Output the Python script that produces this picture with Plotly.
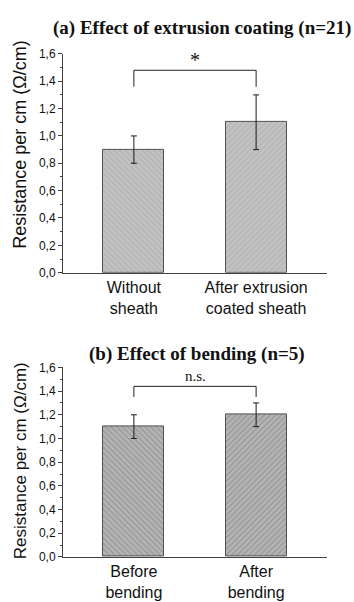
import plotly.graph_objects as go

# Panel (a): extrusion coating
cats_a = ["Without<br>sheath", "After extrusion<br>coated sheath"]
mean_a = [0.9, 1.1]
err_a = [0.1, 0.2]
bracket_a = [1.48, 1.36]  # bracket top, bracket leg bottom
sig_a = "*"

# Panel (b): bending
cats_b = ["Before<br>bending", "After<br>bending"]
mean_b = [1.1, 1.2]
err_b = [0.1, 0.1]
bracket_b = [1.44, 1.35]
sig_b = "n.s."

y_ticks = [0.0, 0.2, 0.4, 0.6, 0.8, 1.0, 1.2, 1.4, 1.6]
hatches = ["\\", "/"]

W, H = 354, 602
serif = "Liberation Serif, Times New Roman, serif"
sans = "Liberation Sans, Arial, sans-serif"

fig = go.Figure()


def add_panel(fig, cats, means, errs, fg, bg, xa, ya):
    xs = list(range(len(cats)))
    fig.add_trace(go.Bar(
        x=xs, y=means, width=0.5,
        xaxis=xa, yaxis=ya,
        marker=dict(color=bg, line=dict(color="#505050", width=1),
                    pattern=dict(shape=hatches, fgcolor=fg, bgcolor=bg,
                                 size=4, solidity=0.25)),
        error_y=dict(type="data", array=errs, color="#1a1a1a",
                     thickness=1, width=3),
        showlegend=False,
    ))


add_panel(fig, cats_a, mean_a, err_a, "#9a9a9a", "#c2c2c2", "x", "y")
add_panel(fig, cats_b, mean_b, err_b, "#6a6a6a", "#b4b4b4", "x2", "y2")

xdom = [63 / W, 327 / W]
axis_common = dict(showline=True, linecolor="#404040", linewidth=1,
                   showgrid=False, zeroline=False)

fig.update_layout(
    width=W, height=H,
    margin=dict(l=0, r=0, t=0, b=0),
    paper_bgcolor="white", plot_bgcolor="white",
    separators=",.",
    bargap=0,
    xaxis=dict(domain=xdom, range=[-0.58, 1.58], anchor="y",
               tickvals=[0, 1], ticktext=cats_a, ticks="",
               tickfont=dict(family=sans, size=16, color="#111"),
               **axis_common),
    yaxis=dict(domain=[1 - 272 / H, 1 - 48 / H], range=[0, 1.6], anchor="x",
               tickvals=y_ticks, tickformat=".1f", ticks="outside",
               ticklen=4, tickcolor="#404040",
               minor=dict(ticks="outside", ticklen=2, dtick=0.1,
                          tickcolor="#404040"),
               tickfont=dict(family=sans, size=12, color="#111"),
               **axis_common),
    xaxis2=dict(domain=xdom, range=[-0.58, 1.58], anchor="y2",
                tickvals=[0, 1], ticktext=cats_b, ticks="",
                tickfont=dict(family=sans, size=16, color="#111"),
                **axis_common),
    yaxis2=dict(domain=[1 - 563 / H, 1 - 369 / H], range=[0, 1.6], anchor="x2",
                tickvals=y_ticks, tickformat=".1f", ticks="outside",
                ticklen=4, tickcolor="#404040",
                minor=dict(ticks="outside", ticklen=2, dtick=0.1,
                           tickcolor="#404040"),
                tickfont=dict(family=sans, size=12, color="#111"),
                **axis_common),
)


def add_bracket(fig, br, label, xr, yr, label_size, shift):
    top, leg = br
    fig.add_shape(type="path", xref=xr, yref=yr,
                  path=f"M 0 {leg} L 0 {top} L 1 {top} L 1 {leg}",
                  line=dict(color="#222", width=1))
    fig.add_annotation(x=0.5, y=top, xref=xr, yref=yr, text=label,
                       showarrow=False, yanchor="bottom", yshift=shift,
                       font=dict(family=serif, size=label_size, color="#111"))


add_bracket(fig, bracket_a, sig_a, "x", "y", 20, -3)
add_bracket(fig, bracket_b, sig_b, "x2", "y2", 15, 0)

# Panel titles
fig.add_annotation(x=202 / W, y=1 - 21 / H, xref="paper", yref="paper",
                   text="<b>(a) Effect of extrusion coating (n=21)</b>",
                   showarrow=False, xanchor="center", yanchor="middle",
                   font=dict(family=serif, size=19, color="#111"))
fig.add_annotation(x=197 / W, y=1 - 355 / H, xref="paper", yref="paper",
                   text="<b>(b) Effect of bending (n=5)</b>",
                   showarrow=False, xanchor="center", yanchor="middle",
                   font=dict(family=serif, size=19, color="#111"))

# Y-axis titles
ylabel = "Resistance per cm (\u03a9/cm)"
fig.add_annotation(x=20 / W, y=1 - 141 / H, xref="paper", yref="paper",
                   text=ylabel, textangle=-90, showarrow=False,
                   xanchor="center", yanchor="middle",
                   font=dict(family=sans, size=18, color="#111"))
fig.add_annotation(x=20 / W, y=1 - 465 / H, xref="paper", yref="paper",
                   text=ylabel, textangle=-90, showarrow=False,
                   xanchor="center", yanchor="middle",
                   font=dict(family=sans, size=17, color="#111"))

fig.write_html("out.html")
